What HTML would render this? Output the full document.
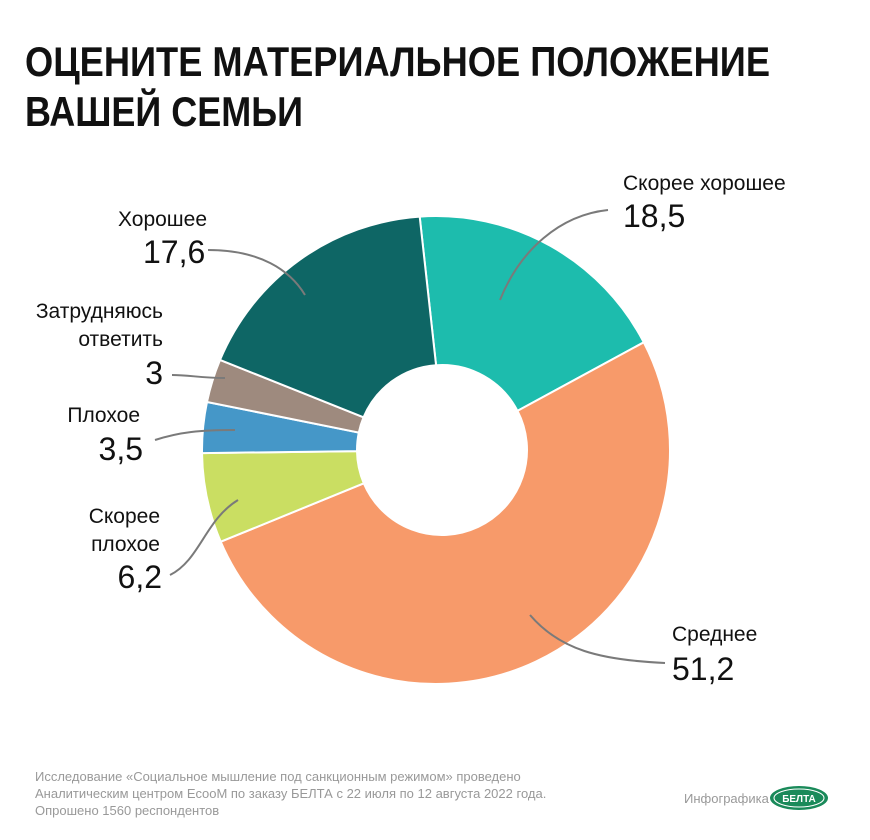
<!DOCTYPE html>
<html><head><meta charset="utf-8">
<style>
body{margin:0;background:#fff;}
svg{display:block;font-family:"Liberation Sans",sans-serif;}
</style></head>
<body>
<svg id="s" width="870" height="840" viewBox="0 0 870 840" xmlns="http://www.w3.org/2000/svg">
<text x="25" y="76" font-size="42" font-weight="bold" fill="#111" textLength="745" lengthAdjust="spacingAndGlyphs">ОЦЕНИТЕ МАТЕРИАЛЬНОЕ ПОЛОЖЕНИЕ</text>
<text x="25" y="126" font-size="42" font-weight="bold" fill="#111" textLength="278" lengthAdjust="spacingAndGlyphs">ВАШЕЙ СЕМЬИ</text>
<g id="pie"></g>
<g fill="none" stroke="#7a7a7a" stroke-width="2">
<path d="M608 210 C560 215 520 250 500 300"/>
<path d="M208 250 C260 250 290 270 305 295"/>
<path d="M172 375 C190 375 200 378 225 378"/>
<path d="M155 440 C180 432 200 430 235 430"/>
<path d="M170 575 C200 560 205 520 238 500"/>
<path d="M665 663 C600 660 560 650 530 615"/>
</g>
<g fill="#111">
<text x="623" y="190" font-size="21">Скорее хорошее</text>
<text x="623" y="227" font-size="32">18,5</text>
<text x="118" y="226" font-size="21">Хорошее</text>
<text x="143" y="263" font-size="32">17,6</text>
<text x="163" y="318" font-size="21" text-anchor="end">Затрудняюсь</text>
<text x="163" y="346" font-size="21" text-anchor="end">ответить</text>
<text x="163" y="384" font-size="32" text-anchor="end">3</text>
<text x="140" y="422" font-size="21" text-anchor="end">Плохое</text>
<text x="143" y="460" font-size="32" text-anchor="end">3,5</text>
<text x="160" y="523" font-size="21" text-anchor="end">Скорее</text>
<text x="160" y="551" font-size="21" text-anchor="end">плохое</text>
<text x="162" y="588" font-size="32" text-anchor="end">6,2</text>
<text x="672" y="641" font-size="21">Среднее</text>
<text x="672" y="680" font-size="32">51,2</text>
</g>
<g fill="#999" font-size="13">
<text x="35" y="781">Исследование «Социальное мышление под санкционным режимом» проведено</text>
<text x="35" y="798">Аналитическим центром EcooM по заказу БЕЛТА с 22 июля по 12 августа 2022 года.</text>
<text x="35" y="815">Опрошено 1560 респондентов</text>
<text x="684" y="803">Инфографика</text>
</g>
<ellipse cx="799" cy="798" rx="29" ry="12" fill="#1a8a5a"/>
<ellipse cx="799" cy="798" rx="25" ry="9" fill="none" stroke="#fff" stroke-width="1"/>
<text x="799" y="802" font-size="10" font-weight="bold" fill="#fff" text-anchor="middle">БЕЛТА</text>
</svg>
<script>
var cx=436,cy=450,R=234,r=85,icx=442;
var d=[[18.5,"#1dbcad"],[51.2,"#f79a6a"],[6.2,"#cade62"],[3.5,"#4597c8"],[3,"#9e8a7e"],[17.6,"#0e6665"]];
var a=-4,g=document.getElementById("pie"),h="";
function p(rad,deg,x){var t=deg*Math.PI/180;return ((x||cx)+rad*Math.sin(t)).toFixed(2)+" "+(cy-rad*Math.cos(t)).toFixed(2);}
d.forEach(function(s){var b=a+s[0]*3.6,l=(b-a)>180?1:0;
h+='<path d="M'+p(R,a)+' A'+R+' '+R+' 0 '+l+' 1 '+p(R,b)+' L'+p(r,b,icx)+' A'+r+' '+r+' 0 '+l+' 0 '+p(r,a,icx)+'Z" fill="'+s[1]+'" stroke="#fff" stroke-width="2"/>';a=b;});
g.innerHTML=h;
</script>
</body></html>
